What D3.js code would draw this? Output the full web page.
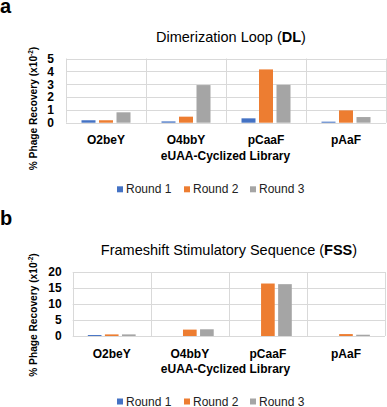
<!DOCTYPE html>
<html><head><meta charset="utf-8">
<script src="https://cdn.jsdelivr.net/npm/d3@7"></script>
<style>body{margin:0;background:#fff}svg{display:block;font-family:"Liberation Sans",Arial,sans-serif}</style>
</head><body>
<svg id="c" width="387" height="407"></svg>
<script>
const categories = ["O2beY","O4bbY","pCaaF","pAaF"];
const seriesNames = ["Round 1","Round 2","Round 3"];
const colors = ["#4472C4","#ED7D31","#A5A5A5"];
// Panel a: Dimerization Loop (DL)
const dlRound1 = [0.19, 0.10, 0.34, 0.08];
const dlRound2 = [0.19, 0.47, 4.15, 0.96];
const dlRound3 = [0.81, 2.93, 2.95, 0.44];
const dlTicks = [0,1,2,3,4,5];
// Panel b: Frameshift Stimulatory Sequence (FSS)
const fssRound1 = [0.3, 0, 0, 0];
const fssRound2 = [0.5, 2.0, 16.4, 0.6];
const fssRound3 = [0.5, 2.1, 16.2, 0.4];
const fssTicks = [0,5,10,15,20];

const svg = d3.select("#c");

function panel(cfg){
  const g = svg.append("g");
  const x0 = d3.scaleBand().domain(categories).range([cfg.left, cfg.right]);
  const x1 = d3.scaleBand().domain(seriesNames).range([0, x0.bandwidth()]).paddingInner(0.2).paddingOuter(0.886);
  const y = d3.scaleLinear().domain([0, d3.max(cfg.ticks)]).range([cfg.bottom, cfg.top]);
  // gridlines
  g.append("g").selectAll("line").data(cfg.ticks).join("line")
    .attr("x1", cfg.left).attr("x2", cfg.right)
    .attr("y1", d=>Math.round(y(d))+0.5).attr("y2", d=>Math.round(y(d))+0.5)
    .attr("stroke","#d9d9d9").attr("stroke-width",1);
  const vx = categories.map(c=>x0(c)).concat([cfg.right]);
  g.append("g").selectAll("line").data(vx).join("line")
    .attr("x1", d=>Math.round(d)+0.5).attr("x2", d=>Math.round(d)+0.5)
    .attr("y1", cfg.top).attr("y2", cfg.bottom)
    .attr("stroke","#d9d9d9").attr("stroke-width",1);
  // bars
  const rows = categories.map((c,i)=>({c, vals: cfg.data.map(s=>s[i])}));
  const cg = g.append("g").selectAll("g").data(rows).join("g")
    .attr("transform", d=>`translate(${x0(d.c)},0)`);
  cg.selectAll("rect").data(d=>d.vals.map((v,j)=>({v, s: seriesNames[j], j}))).join("rect")
    .attr("x", d=>x1(d.s)).attr("width", x1.bandwidth())
    .attr("y", d=>y(d.v)).attr("height", d=>y(0)-y(d.v))
    .attr("fill", d=>colors[d.j]);
  // y axis
  const ya = g.append("g").attr("transform",`translate(${cfg.left},0)`)
    .call(d3.axisLeft(y).tickValues(cfg.ticks).tickFormat(d3.format("d")).tickSize(0).tickPadding(cfg.tickPad));
  ya.select(".domain").remove();
  ya.selectAll("text").attr("font-size",12).attr("font-weight","bold").attr("fill","#000")
    .attr("font-family","Liberation Sans, Arial, sans-serif");
  // x axis labels
  const xa = g.append("g").attr("transform",`translate(0,${cfg.bottom})`)
    .call(d3.axisBottom(x0).tickSize(0).tickPadding(cfg.xPad));
  xa.select(".domain").remove();
  xa.selectAll("text").attr("font-size",12).attr("font-weight","bold").attr("fill","#000")
    .attr("font-family","Liberation Sans, Arial, sans-serif");
  // x axis title
  g.append("text").attr("x", cfg.xTitleX).attr("y", cfg.xTitleY).attr("text-anchor","middle")
    .attr("font-size",12).attr("font-weight","bold").text("eUAA-Cyclized Library");
  // y axis title
  const yt = g.append("text").attr("transform",`translate(${cfg.yTitleX},${cfg.yTitleY}) rotate(-90)`)
    .attr("text-anchor","middle").attr("font-size",10.2).attr("font-weight","bold");
  yt.append("tspan").text("% Phage Recovery (x10");
  yt.append("tspan").attr("font-size",6.5).attr("dy",-4).text("-2");
  yt.append("tspan").attr("dy",4).text(")");
  // title
  const t = g.append("text").attr("x", cfg.titleX).attr("y", cfg.titleY).attr("text-anchor","middle")
    .attr("font-size",14.5);
  t.append("tspan").text(cfg.title1);
  t.append("tspan").attr("font-weight","bold").text(cfg.title2);
  t.append("tspan").text(")");
  // panel letter
  g.append("text").attr("x",0).attr("y",cfg.letterY).attr("font-size",20).attr("font-weight","bold").text(cfg.letter);
  // legend
  const lx = [117, 184, 250];
  const lg = g.append("g").selectAll("g").data(seriesNames).join("g")
    .attr("transform",(d,i)=>`translate(${lx[i]},${cfg.legendY})`);
  lg.append("rect").attr("x",0).attr("y",-7).attr("width",6).attr("height",6).attr("fill",(d,i)=>colors[i]);
  lg.append("text").attr("x",9).attr("y",0).attr("font-size",12).attr("fill","#222").text(d=>d);
}

panel({left:66, right:386, top:58.5, bottom:122.7, ticks:dlTicks, data:[dlRound1,dlRound2,dlRound3],
  tickPad:12, xPad:13, xTitleX:225.5, xTitleY:159.5, yTitleX:37, yTitleY:108.5,
  titleX:231, titleY:42, title1:"Dimerization Loop (", title2:"DL", letter:"a", letterY:12.5, legendY:193.3});
panel({left:72.7, right:385, top:272, bottom:336, ticks:fssTicks, data:[fssRound1,fssRound2,fssRound3],
  tickPad:11, xPad:13, xTitleX:225.5, xTitleY:373, yTitleX:37, yTitleY:315,
  titleX:229, titleY:255, title1:"Frameshift Stimulatory Sequence (", title2:"FSS", letter:"b", letterY:225, legendY:405.5});
</script>
</body></html>
